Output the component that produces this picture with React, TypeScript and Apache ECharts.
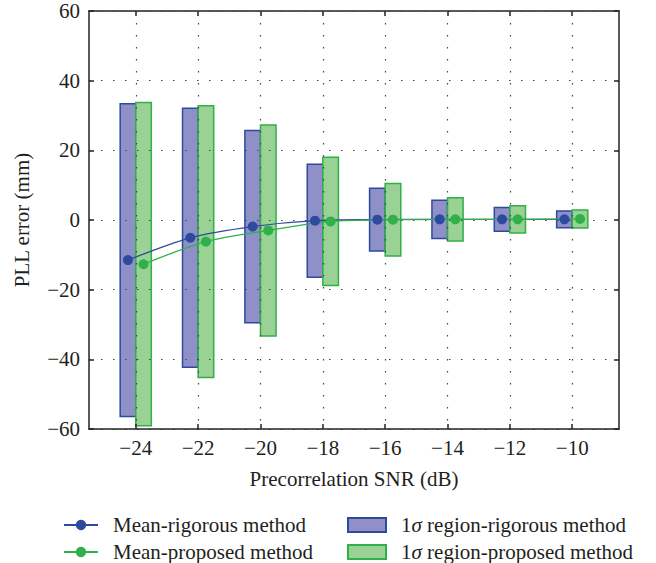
import React, { useEffect, useRef } from "react";
import * as echarts from "echarts";

const snr = [-24, -22, -20, -18, -16, -14, -12, -10];
const meanRigorous = [-11.5, -5.1, -1.9, -0.2, 0.1, 0.2, 0.2, 0.2];
const meanProposed = [-12.7, -6.2, -3.0, -0.4, 0.1, 0.2, 0.2, 0.3];
const sigmaRigorous = [44.9, 37.2, 27.6, 16.2, 9.0, 5.5, 3.4, 2.4];
const sigmaProposed = [46.4, 39.0, 30.3, 18.4, 10.4, 6.2, 3.9, 2.6];
const xTicks = [-24, -22, -20, -18, -16, -14, -12, -10];

const FONT = "Liberation Serif";
const TEXT = "#231f20";
const BLUE = "#2e4a9e";
const GREEN = "#2fb04a";
const BLUE_FILL = "#9090c8";
const GREEN_FILL = "#9ad194";
const FS = 21;

const fmtMinus = (v: number) => (v < 0 ? "\u2212" + Math.abs(v) : String(v));

function barSeries(name: string, mean: number[], sigma: number[], off0: number, off1: number, fill: string, stroke: string) {
  return {
    name,
    type: "custom",
    z: 2,
    itemStyle: { color: fill, borderColor: stroke, borderWidth: 1.5 },
    encode: { x: 0, y: [1, 2] },
    data: snr.map((x, i) => [x, mean[i] - sigma[i], mean[i] + sigma[i]]),
    renderItem: (params: any, api: any) => {
      const x = api.value(0);
      const lo = api.value(1);
      const hi = api.value(2);
      const p1 = api.coord([x + off0, hi]);
      const p2 = api.coord([x + off1, lo]);
      return {
        type: "rect",
        shape: { x: p1[0], y: p1[1], width: p2[0] - p1[0], height: p2[1] - p1[1] },
        style: { fill, stroke, lineWidth: 1.5 },
      };
    },
  };
}

export default function App() {
  const ref = useRef<HTMLDivElement>(null);
  useEffect(() => {
    if (!ref.current) return;
    document.body.style.margin = "0";
    const chart = echarts.init(ref.current, undefined, { renderer: "svg" });
    const split = { show: true, lineStyle: { type: [1.5, 10.5], color: "#444", width: 1.2 } };
    const tick = { show: true, inside: true, length: 5, lineStyle: { color: "#222", width: 1.5 } };
    const axisLine = { show: true, onZero: false, lineStyle: { color: "#222", width: 1.5 } };
    const legendText = { fontSize: FS, color: TEXT, fontFamily: FONT, lineHeight: 22, padding: [0, 0, 0, 10] };
    chart.setOption({
      animation: false,
      textStyle: { fontFamily: FONT, color: TEXT },
      grid: { left: 89, right: 37, top: 11, bottom: 134 },
      xAxis: [
        {
          type: "value",
          min: -25.5,
          max: -8.5,
          z: 3,
          position: "bottom",
          name: "Precorrelation SNR (dB)",
          nameLocation: "middle",
          nameGap: 39.5,
          nameTextStyle: { fontSize: FS, color: TEXT, fontFamily: FONT },
          axisLine,
          axisTick: { ...tick, customValues: xTicks },
          axisLabel: { customValues: xTicks, formatter: fmtMinus, fontSize: FS, color: TEXT, fontFamily: FONT, margin: 8 },
          splitLine: split,
        },
        {
          type: "value",
          min: -25.5,
          max: -8.5,
          position: "top",
          axisLine,
          axisTick: { ...tick, customValues: xTicks },
          axisLabel: { show: false, customValues: xTicks },
          splitLine: { show: false },
        },
      ],
      yAxis: [
        {
          type: "value",
          min: -60,
          max: 60,
          interval: 20,
          z: 3,
          position: "left",
          name: "PLL error (mm)",
          nameLocation: "middle",
          nameGap: 56.5,
          nameTextStyle: { fontSize: FS, color: TEXT, fontFamily: FONT },
          axisLine,
          axisTick: tick,
          axisLabel: { formatter: fmtMinus, fontSize: FS, color: TEXT, fontFamily: FONT, margin: 9 },
          splitLine: split,
        },
        {
          type: "value",
          min: -60,
          max: 60,
          interval: 20,
          position: "right",
          axisLine,
          axisTick: tick,
          axisLabel: { show: false },
          splitLine: { show: false },
        },
      ],
      legend: [
        {
          orient: "vertical",
          left: 63,
          top: 514,
          padding: 0,
          itemWidth: 34,
          itemHeight: 13,
          itemGap: 5,
          data: ["Mean-rigorous method", "Mean-proposed method"],
          textStyle: legendText,
        },
        {
          orient: "vertical",
          left: 347,
          top: 514,
          padding: 0,
          itemWidth: 38,
          itemHeight: 14,
          itemGap: 5,
          icon: "rect",
          data: ["1σ region-rigorous method", "1σ region-proposed method"],
          formatter: (n: string) => "{n|1}{s|σ}{n|" + n.slice(2) + "}",
          textStyle: {
            ...legendText,
            rich: {
              n: { fontSize: FS, color: TEXT, fontFamily: FONT, lineHeight: 22 },
              s: { fontSize: FS, color: TEXT, fontFamily: FONT, fontStyle: "italic", lineHeight: 22 },
            },
          },
        },
      ],
      series: [
        barSeries("1σ region-rigorous method", meanRigorous, sigmaRigorous, -0.5, 0, BLUE_FILL, BLUE),
        barSeries("1σ region-proposed method", meanProposed, sigmaProposed, 0, 0.5, GREEN_FILL, GREEN),
        {
          name: "Mean-rigorous method",
          type: "line",
          z: 5,
          smooth: 0.3,
          symbol: "circle",
          symbolSize: 10,
          itemStyle: { color: BLUE },
          lineStyle: { color: BLUE, width: 1.3 },
          data: snr.map((x, i) => [x - 0.25, meanRigorous[i]]),
        },
        {
          name: "Mean-proposed method",
          type: "line",
          z: 5,
          smooth: 0.3,
          symbol: "circle",
          symbolSize: 10,
          itemStyle: { color: GREEN },
          lineStyle: { color: GREEN, width: 1.3 },
          data: snr.map((x, i) => [x + 0.25, meanProposed[i]]),
        },
      ],
    });
    return () => chart.dispose();
  }, []);
  return <div ref={ref} style={{ width: 656, height: 563 }} />;
}
